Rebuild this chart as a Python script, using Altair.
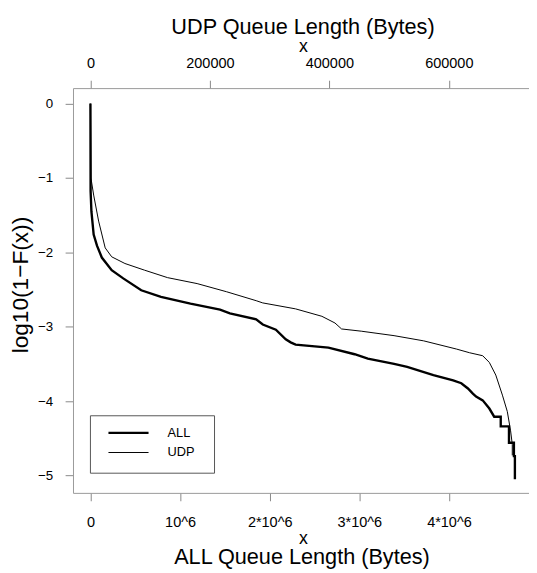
import altair as alt
import pandas as pd

# ALL queue length (bytes) vs log10(1-F(x))
all_x = [0, 2000, 11000, 36000, 73000, 127000, 237000, 366000, 567000, 787000,
         1116000, 1446000, 1556000, 1849000, 1923000, 2069000, 2179000, 2234000,
         2289000, 2655000, 2948000, 3095000, 3388000, 3534000, 3827000, 4047000,
         4138000, 4212000, 4267000, 4303000, 4377000, 4451000, 4505000, 4578000,
         4578000, 4670000, 4670000, 4725000, 4725000, 4736000, 4736000]
all_y = [0.0, -1.18, -1.45, -1.76, -1.91, -2.07, -2.24, -2.35, -2.51, -2.60,
         -2.69, -2.77, -2.82, -2.90, -2.97, -3.04, -3.17, -3.21,
         -3.24, -3.28, -3.37, -3.43, -3.50, -3.54, -3.65, -3.72,
         -3.76, -3.83, -3.90, -3.94, -3.99, -4.10, -4.21, -4.21,
         -4.34, -4.34, -4.56, -4.56, -4.74, -4.74, -5.05]

# UDP queue length (bytes) vs log10(1-F(x))
udp_x = [0, 800, 5400, 13700, 24700, 35600, 57700, 90700, 129100, 178600,
         228000, 277500, 288500, 343400, 387500, 409400, 420400, 453400,
         508300, 557800, 612700, 634800, 656700, 667800, 678600, 689700,
         697900, 703400, 706200, 706200]
udp_y = [0.0, -1.00, -1.23, -1.58, -1.94, -2.06, -2.15, -2.24, -2.34, -2.42,
         -2.53, -2.65, -2.68, -2.76, -2.86, -2.95, -3.03, -3.06,
         -3.12, -3.19, -3.30, -3.35, -3.39, -3.48, -3.65, -3.92,
         -4.14, -4.40, -4.58, -4.73]

series_names = ["ALL", "UDP"]
all_ticks = [0, 1000000, 2000000, 3000000, 4000000]
all_tick_labels = ["0", "10^6", "2*10^6", "3*10^6", "4*10^6"]
udp_ticks = [0, 200000, 400000, 600000]
y_ticks = [-5, -4, -3, -2, -1, 0]
top_title = "UDP Queue Length (Bytes)"
bottom_title = "ALL Queue Length (Bytes)"
y_title = "log10(1\u2212F(x))"

FONT = "Liberation Sans"

df_all = pd.DataFrame({"x": all_x, "y": all_y, "i": list(range(len(all_x)))})
df_udp = pd.DataFrame({"x": udp_x, "y": udp_y, "i": list(range(len(udp_x)))})

label_expr = "''"
for v, lab in reversed(list(zip(all_ticks, all_tick_labels))):
    label_expr = f"datum.value == {v} ? '{lab}' : ({label_expr})"

yscale = alt.Scale(domain=[-5.234, 0.208], nice=False, zero=False)

common_axis = dict(labelFont=FONT, labelColor="black", tickColor="#888",
                   domainColor="#999", tickSize=8, grid=False,
                   labelFlush=False, labelOverlap=False,
                   titleFont=FONT, titleFontWeight="normal", titleColor="black")

y_axis = alt.Axis(values=y_ticks, format="d", title=None, labelFontSize=13.5,
                  labelPadding=12.7, **common_axis)

all_line = alt.Chart(df_all).mark_line(color="black", strokeWidth=2.4).encode(
    x=alt.X("x:Q", scale=alt.Scale(domain=[-194500, 4893400], nice=False, zero=False),
            axis=alt.Axis(orient="bottom", values=all_ticks, labelExpr=label_expr,
                          title="x", titleFontSize=18, titleBaseline="alphabetic",
                          titleX=233.5, titleY=51.8, labelFontSize=14.7,
                          labelPadding=14.4, **common_axis)),
    y=alt.Y("y:Q", scale=yscale, axis=y_axis),
    order="i:Q",
)

udp_line = alt.Chart(df_udp).mark_line(color="black", strokeWidth=1).encode(
    x=alt.X("x:Q", scale=alt.Scale(domain=[-29184, 734211], nice=False, zero=False),
            axis=alt.Axis(orient="top", values=udp_ticks, format="d",
                          title="x", titleFontSize=18, titleBaseline="alphabetic",
                          titleX=233.5, titleY=-36.7, labelFontSize=14.7,
                          labelPadding=9.6, **common_axis)),
    y=alt.Y("y:Q", scale=yscale, axis=y_axis),
    order="i:Q",
)

top_text = alt.Chart(pd.DataFrame({"t": [top_title]})).mark_text(
    font=FONT, fontSize=22, align="center", baseline="alphabetic", color="black"
).encode(text="t:N", x=alt.value(233.5), y=alt.value(-55))

bottom_text = alt.Chart(pd.DataFrame({"t": [bottom_title]})).mark_text(
    font=FONT, fontSize=22, align="center", baseline="alphabetic", color="black"
).encode(text="t:N", x=alt.value(232.5), y=alt.value(483.4))

y_text = alt.Chart(pd.DataFrame({"t": [y_title]})).mark_text(
    font=FONT, fontSize=23, align="center", baseline="middle", angle=270, color="black"
).encode(text="t:N", x=alt.value(-52.5), y=alt.value(200))

# legend
legend_box = alt.Chart(pd.DataFrame({"a": [1]})).mark_rect(
    fill="white", fillOpacity=0, stroke="#555", strokeWidth=1
).encode(x=alt.value(17.7), x2=alt.value(143.7), y=alt.value(332.7), y2=alt.value(391))

leg_all = alt.Chart(pd.DataFrame({"a": [1]})).mark_rule(color="black", strokeWidth=2.4).encode(
    x=alt.value(36), x2=alt.value(76.7), y=alt.value(350))
leg_udp = alt.Chart(pd.DataFrame({"a": [1]})).mark_rule(color="black", strokeWidth=1).encode(
    x=alt.value(36), x2=alt.value(76.7), y=alt.value(370))
leg_all_t = alt.Chart(pd.DataFrame({"t": [series_names[0]]})).mark_text(
    font=FONT, fontSize=13, align="left", baseline="middle", color="black"
).encode(text="t:N", x=alt.value(96), y=alt.value(350))
leg_udp_t = alt.Chart(pd.DataFrame({"t": [series_names[1]]})).mark_text(
    font=FONT, fontSize=13, align="left", baseline="middle", color="black"
).encode(text="t:N", x=alt.value(96), y=alt.value(370))

chart = alt.layer(
    all_line, udp_line, top_text, bottom_text, y_text,
    legend_box, leg_all, leg_udp, leg_all_t, leg_udp_t
).resolve_scale(x="independent").properties(
    width=463, height=411,
    autosize=alt.AutoSizeParams(type="none"),
    padding={"left": 66, "top": 77, "right": 0, "bottom": 77},
    background="white",
).configure_view(stroke=None)

chart.save("out.html", embed_options={"renderer": "svg", "actions": False})
